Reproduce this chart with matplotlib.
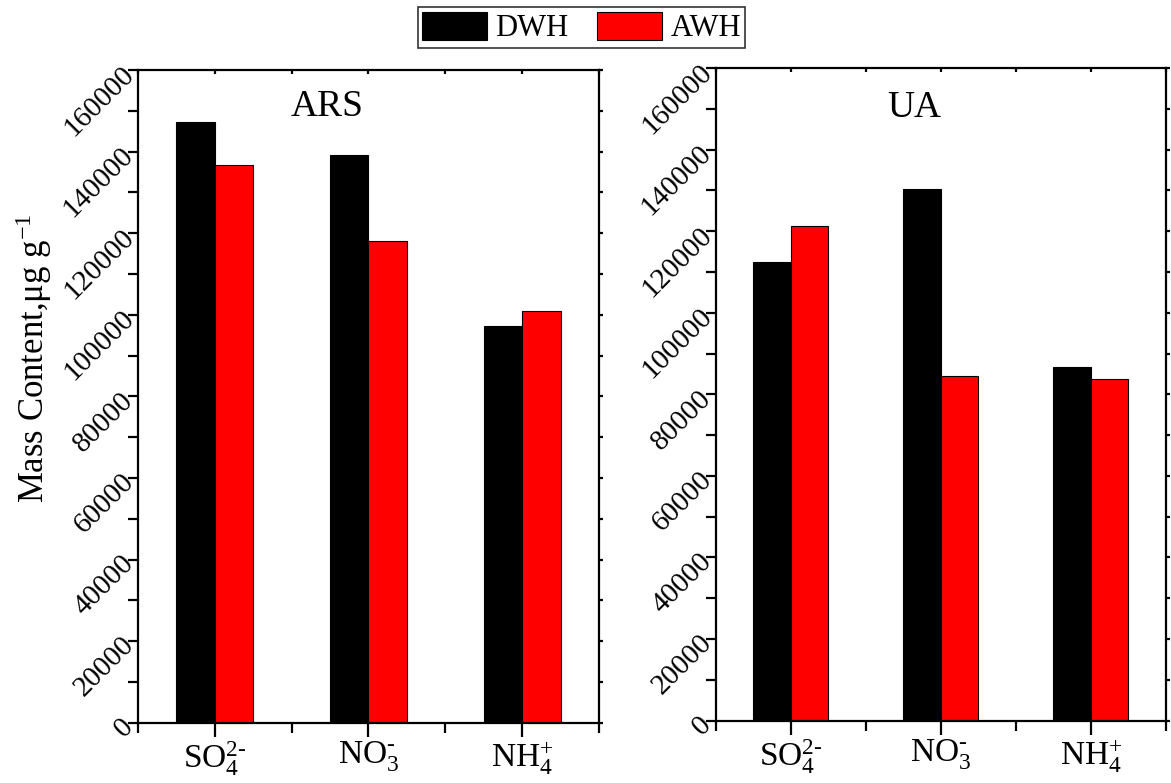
import numpy as np
import matplotlib
matplotlib.use('Agg')
import matplotlib.pyplot as plt
from matplotlib.ticker import MultipleLocator

#----fonts: Times-like serif everywhere, mathtext too----#
plt.rcParams['font.family'] = ['Liberation Serif', 'DejaVu Serif']
plt.rcParams['mathtext.fontset'] = 'custom'
plt.rcParams['mathtext.rm'] = 'Liberation Serif'
plt.rcParams['mathtext.it'] = 'Liberation Serif:italic'
plt.rcParams['mathtext.default'] = 'regular'

#----data----#
ions = [r'SO$_4^{2\text{-}}$', r'NO$_3^{\text{-}}$', r'NH$_4^{+}$']
series = ['DWH', 'AWH']
colors = ['black', 'red']

ars_dwh = [147300, 139100, 97200]
ars_awh = [136700, 118000, 100900]
ua_dwh = [112400, 130300, 86700]
ua_awh = [121300, 84500, 83700]

panels = [
    ('ARS', ars_dwh, ars_awh, [0.1178, 0.0770, 0.3937, 0.8336], (0.41, 0.943)),
    ('UA', ua_dwh, ua_awh, [0.6114, 0.0798, 0.3843, 0.8333], (0.44, 0.939)),
]

fig = plt.figure(figsize=(11.71, 7.83), dpi=100)

x = np.arange(1, len(ions) + 1)
w = 0.25
handles = []
for name, dwh, awh, rect, tpos in panels:
    ax = fig.add_axes(rect)
    b1 = ax.bar(x - w / 2, dwh, w, color=colors[0], edgecolor='black', linewidth=0.8, label=series[0])
    b2 = ax.bar(x + w / 2, awh, w, color=colors[1], edgecolor='black', linewidth=0.8, label=series[1])
    handles = [b1, b2]

    ax.set_xlim(0.5, 3.5)
    ax.set_ylim(0, 160000)
    ax.set_xticks(x)
    ax.set_xticklabels(ions, fontsize=24)
    ax.xaxis.set_minor_locator(MultipleLocator(0.5))
    ax.yaxis.set_minor_locator(MultipleLocator(10000))
    ax.set_yticks(np.arange(0, 160001, 20000))
    ax.set_yticklabels([str(v) for v in range(0, 160001, 20000)],
                       fontsize=21, rotation=45, ha='right', va='center',
                       rotation_mode='anchor')

    for s in ax.spines.values():
        s.set_linewidth(1.6)
    ax.tick_params(axis='both', which='both', direction='out', width=1.6,
                   top=True, right=True)
    ax.tick_params(axis='y', which='both', length=7, pad=-1)
    ax.tick_params(axis='x', which='major', length=10, pad=2)
    ax.tick_params(axis='x', which='minor', length=7)
    # Origin style: little inward marks on top/right edges
    for t in ax.xaxis.get_ticklines(minor=False)[1::2] + ax.xaxis.get_ticklines(minor=True)[1::2]:
        t.set_marker(3)
        t.set_markersize(3)
    for t in ax.yaxis.get_ticklines(minor=False)[1::2] + ax.yaxis.get_ticklines(minor=True)[1::2]:
        t.set_marker(1)
        t.set_markersize(3)

    ax.text(tpos[0], tpos[1], name, transform=ax.transAxes, fontsize=27,
            ha='center', va='center')

fig.text(34 / 1171, 0.543, r'Mass Content,μg g$^{-1}$', rotation=90,
         fontsize=25, ha='center', va='center')

leg = fig.legend(handles, series, loc='upper center', bbox_to_anchor=(0.4966, 0.991),
                 ncol=2, fontsize=22, frameon=True, fancybox=False, edgecolor='black',
                 handlelength=2.13, handleheight=1.05, handletextpad=0.26,
                 columnspacing=0.95, borderpad=0.15, borderaxespad=0)
leg.get_frame().set_linewidth(1.2)

fig.savefig('out.png', dpi=100)
